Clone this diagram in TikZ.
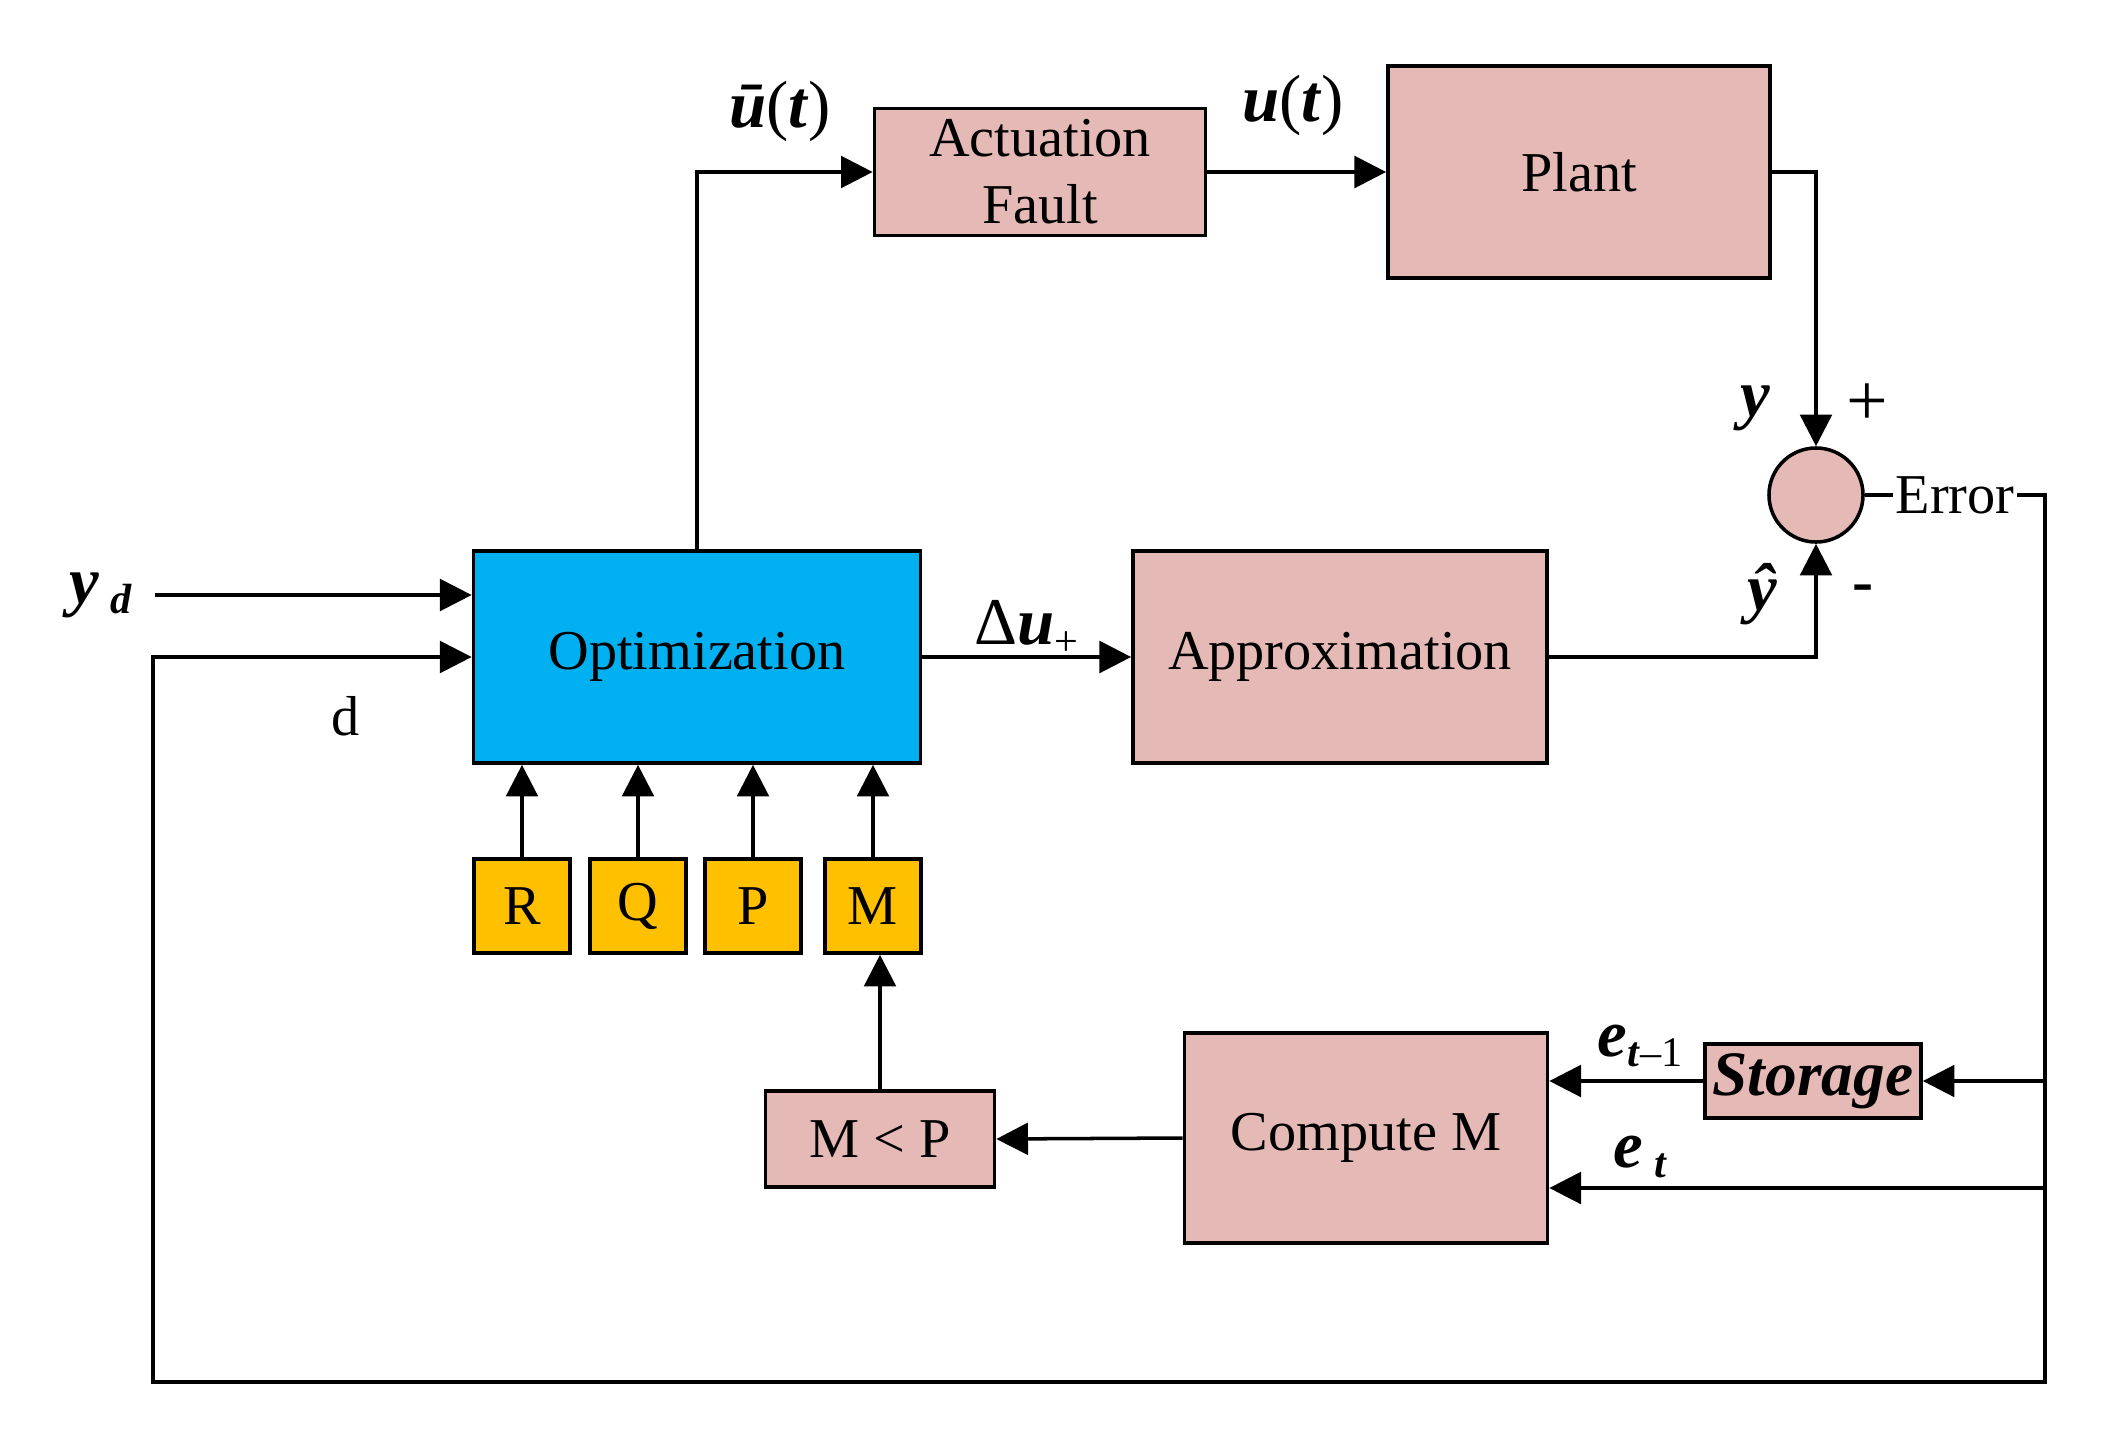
\documentclass[tikz,border=0pt]{standalone}
\usepackage{fontspec}
\setmainfont{Liberation Serif}
\usetikzlibrary{arrows.meta}
\definecolor{rosa}{HTML}{E4B9B6}
\definecolor{celeste}{HTML}{00B0F0}
\definecolor{ambar}{HTML}{FFC000}
\newcommand{\bi}[1]{\textbf{\textit{#1}}}
\newcommand{\subi}[1]{\raisebox{-0.35ex}{\fontsize{12}{12}\selectfont #1}}
\tikzset{
  bloque/.style={draw, line width=1pt, fill=rosa, inner sep=0pt, align=center, font=\fontsize{16}{19}\selectfont},
  param/.style={bloque, fill=ambar, minimum width=0.96cm, minimum height=0.94cm},
  flecha/.style={-{Triangle[length=9pt,width=9pt]}, line width=1pt},
  rotulo/.style={inner sep=1pt, font=\fontsize{19}{19}\selectfont},
}
\begin{document}
\begin{tikzpicture}[x=0.01cm, y=-0.01cm, line join=miter]
  \useasboundingbox (0,0) rectangle (2117,1433);
  % ── bloques principales ──
  \node[bloque, minimum width=3.31cm, minimum height=1.27cm] (act) at (1040,172) {Actuation\\Fault};
  \node[bloque, minimum width=3.82cm, minimum height=2.12cm] (plant) at (1579,172) {Plant};
  \node[bloque, circle, minimum size=0.94cm] (sum) at (1816,495) {};
  \node[bloque, fill=celeste, minimum width=4.47cm, minimum height=2.12cm] (opt) at (697,657) {Optimization};
  \node[bloque, minimum width=4.14cm, minimum height=2.12cm] (approx) at (1340,657) {Approximation};
  \node[bloque, minimum width=2.29cm, minimum height=0.96cm] (mlp) at (880,1139) {M < P};
  \node[bloque, minimum width=3.63cm, minimum height=2.10cm] (comp) at (1366,1138) {Compute M};
  \node[bloque, minimum width=2.16cm, minimum height=0.74cm, font=\fontsize{18}{18}\selectfont\bfseries\itshape] (stor) at (1813,1081) {Storage};
  % ── parámetros R, Q, P, M ──
  \foreach \n/\x in {R/522,Q/638,P/753,M/873} {
    \node[param] (\n) at (\x,906) {\n};
    \draw[flecha] (\n.north) -- (\n.north |- opt.south);
  }
  % ── rótulos ──
  \node[rotulo] (lubar) at (780,111) {\bi{\=u}(\bi{t})};
  \node[rotulo] (lu) at (1293,105) {\bi{u}(\bi{t})};
  \node[rotulo] (ly) at (1755,408) {\bi{y}};
  \node[rotulo, font=\fontsize{21}{21}\selectfont] (lmas) at (1867,405) {+};
  \node[rotulo] (lyhat) at (1762,594) {\bi{\^y}};
  \node[rotulo, font=\fontsize{18}{18}\selectfont\bfseries] (lmenos) at (1863,594) {-};
  \node[rotulo, inner sep=0.5pt, font=\fontsize{16}{16}\selectfont] (err) at (1955,495) {Error};
  \node[rotulo] (ldu) at (1026,628) {Δ\bi{u}\subi{+}};
  \node[rotulo, font=\fontsize{16}{16}\selectfont] (ld) at (346,716) {d};
  \node[rotulo] (lyd) at (101,595) {\bi{y}\,\subi{\bi{d}}};
  \node[rotulo] (let1) at (1640,1046) {\bi{e}\subi{\bi{t}–1}};
  \node[rotulo] (let) at (1640,1157) {\bi{e}\,\subi{\bi{t}}};
  % ── puntos de paso del lazo de realimentación ──
  \coordinate (yd) at (155,595);
  \coordinate (esq1) at (2045,495);
  \coordinate (esq2) at (2045,1382);
  \coordinate (esq3) at (153,1382);
  \coordinate (rama1) at (2045,1081);
  \coordinate (rama2) at (2045,1188);
  % ── conexiones ──
  \draw[flecha] (yd) -- (yd -| opt.west);
  \draw[flecha] (opt.north) |- (act.west);
  \draw[flecha] (act.east) -- (plant.west);
  \draw[flecha] (plant.east) -| (sum.north);
  \draw[flecha] (opt.east) -- (approx.west);
  \draw[flecha] (approx.east) -| (sum.south);
  \draw[line width=1pt] (sum.east) -- (err.west);
  \draw[flecha] (err.east) -- (esq1) -- (esq2) -- (esq3) |- (opt.west);
  \draw[flecha] (rama1) -- (stor.east);
  \draw[flecha] (stor.west) -- (stor.west -| comp.east);
  \draw[flecha] (rama2) -- (rama2 -| comp.east);
  \draw[flecha] (comp.west) -- (mlp.east);
  \draw[flecha] (mlp.north) -- (mlp.north |- M.south);
\end{tikzpicture}
\end{document}
